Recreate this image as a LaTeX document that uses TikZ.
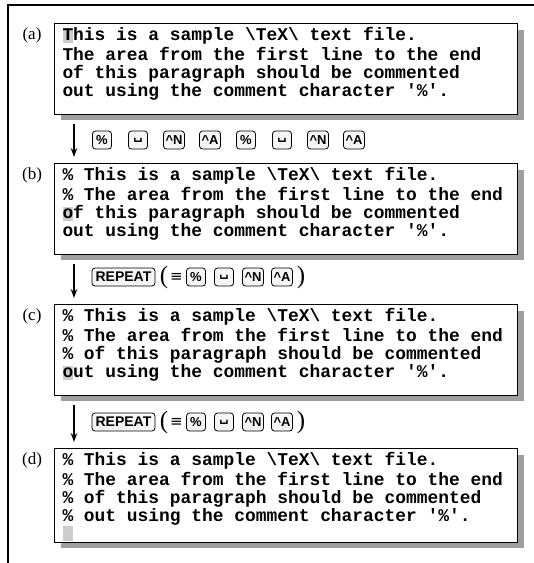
\documentclass[tikz,border=0pt]{standalone}
\usepackage{fontspec}
\setmainfont{Liberation Serif}
\newfontfamily\codefont{Liberation Mono}
\newfontfamily\keyfont{Liberation Sans}
\newfontfamily\symfont{DejaVu Sans}
\usetikzlibrary{shadows, arrows.meta, calc, positioning}

\newcommand{\curs}[1]{\leavevmode\rlap{\smash{\textcolor{gray!40}{\rule[-2.5pt]{0.6em}{0.8em}}}}#1}
\newcommand{\bsl}{\textbackslash}
\newcommand{\quo}{\textquotesingle}

\begin{document}
\begin{tikzpicture}[x=1pt, y=1pt,
  filebox/.style={draw, line width=1pt, fill=white, anchor=north west, text width=447pt, inner xsep=8pt, inner ysep=4pt, align=flush left, font=\codefont\bfseries\fontsize{17.9}{18.2}\selectfont, execute at begin node={\spaceskip=0.6em\xspaceskip=0.6em\relax}, drop shadow={shadow xshift=6pt, shadow yshift=-6pt, fill=gray!75, opacity=1}},
  key/.style={draw, rounded corners=3pt, fill=gray!8, line width=0.8pt, minimum width=19pt, minimum height=18pt, inner xsep=2pt, inner ysep=0pt, font=\keyfont\bfseries\fontsize{13}{13}\selectfont},
  tag/.style={anchor=base, font=\fontsize{17}{17}\selectfont},
  paren/.style={font=\fontsize{25}{25}\selectfont, inner sep=0pt},
  equiv/.style={font=\symfont\fontsize{15}{15}\selectfont, inner sep=0pt},
  flow/.style={line width=1.2pt, -{Stealth[length=9pt, width=6.5pt]}}]
\useasboundingbox (0,0) rectangle (534,-563);
\draw[line width=2pt] (540,-5) -- (8,-5) -- (8,-570);

% the four states of the file
\node[filebox] (fileA) at (54,-23) {\strut\curs{T}his is a sample \bsl TeX\bsl\ text file.\\
The area from the first line to the end\\
of this paragraph should be commented\\
out using the comment character \quo\%\quo.\\[-5pt]\mbox{}};
\node[filebox] (fileB) at (54,-163) {\strut\% This is a sample \bsl TeX\bsl\ text file.\\
\% The area from the first line to the end\\
\curs{o}f this paragraph should be commented\\
out using the comment character \quo\%\quo.\\[-5pt]\mbox{}};
\node[filebox] (fileC) at (54,-304) {\strut\% This is a sample \bsl TeX\bsl\ text file.\\
\% The area from the first line to the end\\
\% of this paragraph should be commented\\
\curs{o}ut using the comment character \quo\%\quo.\\[-5pt]\mbox{}};
\node[filebox] (fileD) at (54,-448) {\strut\% This is a sample \bsl TeX\bsl\ text file.\\
\% The area from the first line to the end\\
\% of this paragraph should be commented\\
\% out using the comment character \quo\%\quo.\\[-2pt]
\curs{}};

\node[tag] (labA) at (32,-39) {(a)};
\node[tag] (labB) at (32,-179) {(b)};
\node[tag] (labC) at (32,-320) {(c)};
\node[tag] (labD) at (32,-464) {(d)};

% arrows between the states
\draw[flow] ($(fileA.south west)+(20,-9)$) -- ($(fileB.north west)+(20,6)$);
\draw[flow] ($(fileB.south west)+(20,-9)$) -- ($(fileC.north west)+(20,6)$);
\draw[flow] ($(fileC.south west)+(20,-9)$) -- ($(fileD.north west)+(20,6)$);

% key strokes a -> b
\node[key] (kA1) at (102,-140) {\%};
\node[key] (kA2) at (138,-140) {\symfont ␣};
\node[key] (kA3) at (174,-140) {\textasciicircum N};
\node[key] (kA4) at (210,-140) {\textasciicircum A};
\node[key] (kA5) at (246,-140) {\%};
\node[key] (kA6) at (282,-140) {\symfont ␣};
\node[key] (kA7) at (318,-140) {\textasciicircum N};
\node[key] (kA8) at (354,-140) {\textasciicircum A};

% key strokes b -> c
\node[key, minimum width=63pt, font=\keyfont\bfseries\fontsize{14}{14}\selectfont] (repB) at (123.5,-277) {REPEAT};
\node[paren] (openB) at (164,-277) {(};
\node[equiv] (eqB) at (176.5,-277) {≡};
\node[key] (kB1) at (196,-277) {\%};
\node[key] (kB2) at (224,-277) {\symfont ␣};
\node[key] (kB3) at (253,-277) {\textasciicircum N};
\node[key] (kB4) at (282,-277) {\textasciicircum A};
\node[paren] (closeB) at (301,-277) {)};

% key strokes c -> d
\node[key, minimum width=63pt, font=\keyfont\bfseries\fontsize{14}{14}\selectfont] (repC) at (123.5,-422) {REPEAT};
\node[paren] (openC) at (164,-422) {(};
\node[equiv] (eqC) at (176.5,-422) {≡};
\node[key] (kC1) at (196,-422) {\%};
\node[key] (kC2) at (224,-422) {\symfont ␣};
\node[key] (kC3) at (253,-422) {\textasciicircum N};
\node[key] (kC4) at (282,-422) {\textasciicircum A};
\node[paren] (closeC) at (301,-422) {)};
\end{tikzpicture}
\end{document}
